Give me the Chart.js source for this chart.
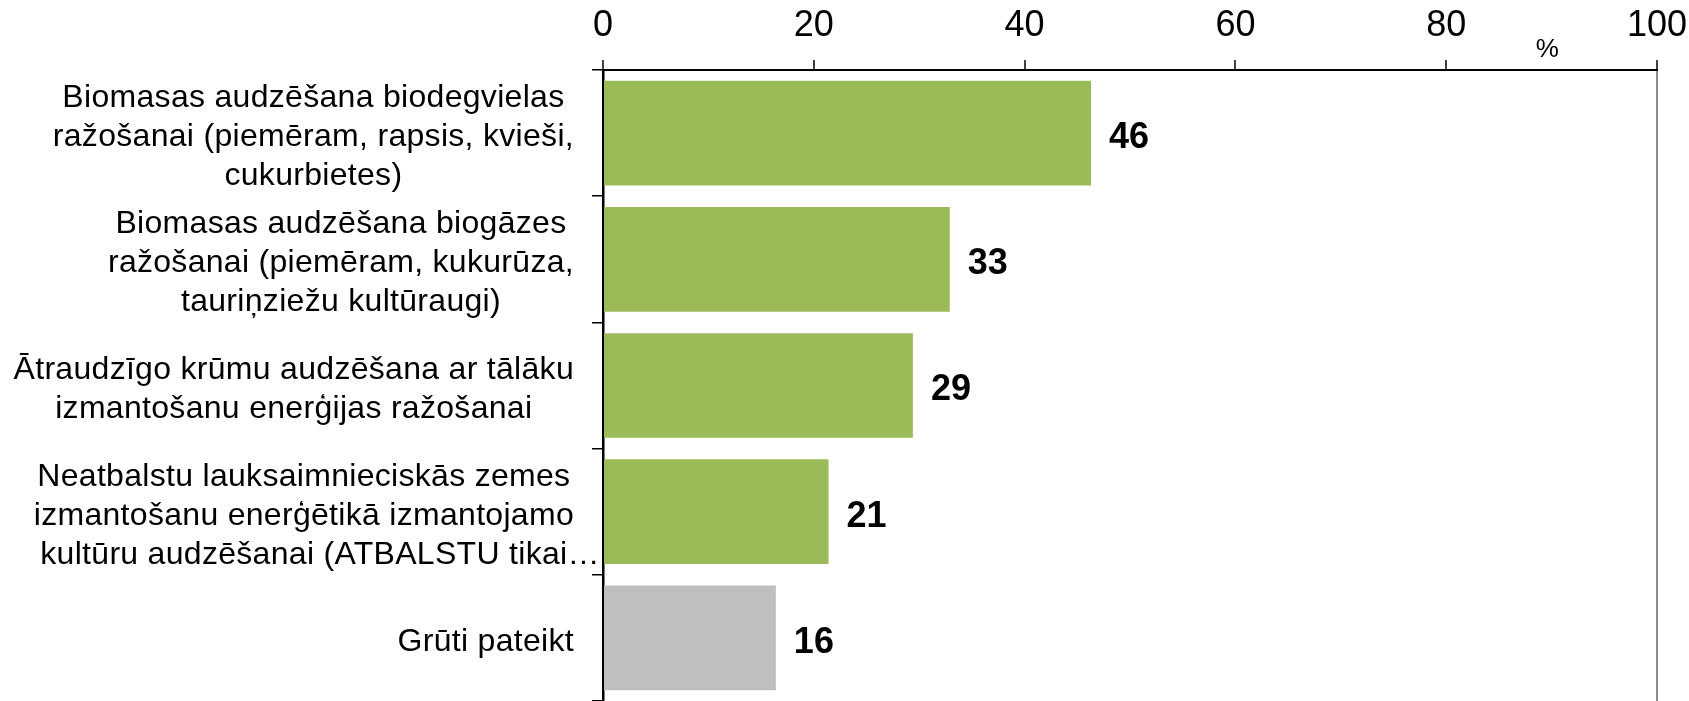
<!DOCTYPE html>
<html>
<head>
<meta charset="utf-8">
<script src="https://cdn.jsdelivr.net/npm/chart.js@4/dist/chart.umd.min.js"></script>
<style>
html,body{margin:0;padding:0;background:#fff;}
#wrap{width:1689px;height:701px;}
</style>
</head>
<body>
<div id="wrap"><canvas id="c" width="1689" height="701"></canvas></div>
<script>
const categories = [
  ["Biomasas audzēšana biodegvielas", "ražošanai (piemēram, rapsis, kvieši,", "cukurbietes)"],
  ["Biomasas audzēšana biogāzes", "ražošanai (piemēram, kukurūza,", "tauriņziežu kultūraugi)"],
  ["Ātraudzīgo krūmu audzēšana ar tālāku", "izmantošanu enerģijas ražošanai"],
  ["Neatbalstu lauksaimnieciskās zemes", "izmantošanu enerģētikā izmantojamo", "kultūru audzēšanai (ATBALSTU tikai…"],
  ["Grūti pateikt"]
];
const values = [46.3, 32.9, 29.4, 21.4, 16.4];
const valueLabels = ["46", "33", "29", "21", "16"];
const barColors = ["#9BBB59", "#9BBB59", "#9BBB59", "#9BBB59", "#BFBFBF"];
const xTicks = [0, 20, 40, 60, 80, 100];
const unitLabel = "%";

const FONT = "'Liberation Sans', Arial, sans-serif";

const labelPlugin = {
  id: 'customLabels',
  afterDraw(chart) {
    const ctx = chart.ctx;
    const ys = chart.scales.y;
    const xs = chart.scales.x;
    ctx.save();
    ctx.fillStyle = '#000';
    ctx.font = "32px " + FONT;
    try { ctx.letterSpacing = '0.3px'; } catch (e) {}
    ctx.textBaseline = 'middle';
    ctx.textAlign = 'left';
    const lineH = 39;
    const rightEdge = 574;
    categories.forEach((lines, i) => {
      const cy = ys.getPixelForValue(i) + 4;
      const widths = lines.map(l => ctx.measureText(l.replace(/…$/, '')).width);
      const maxW = Math.max(...widths);
      const cx = rightEdge - maxW / 2;
      lines.forEach((l, j) => {
        const y = cy + (j - (lines.length - 1) / 2) * lineH;
        ctx.fillText(l, cx - widths[j] / 2, y);
      });
    });
    try { ctx.letterSpacing = '0px'; } catch (e) {}
    ctx.font = "bold 36px " + FONT;
    const meta = chart.getDatasetMeta(0);
    meta.data.forEach((bar, i) => {
      ctx.fillText(valueLabels[i], bar.x + 18, bar.y + 5);
    });
    ctx.font = "26px " + FONT;
    ctx.textAlign = 'center';
    ctx.fillText(unitLabel, xs.getPixelForValue(89.6), 50);
    ctx.restore();
  }
};

new Chart(document.getElementById('c'), {
  type: 'bar',
  data: {
    labels: categories,
    datasets: [{
      data: values,
      backgroundColor: barColors,
      borderWidth: 0,
      barPercentage: 0.83,
      categoryPercentage: 1.0
    }]
  },
  options: {
    indexAxis: 'y',
    responsive: false,
    animation: false,
    layout: { padding: { top: 0, left: 0, right: 32, bottom: 0 } },
    plugins: { legend: { display: false }, tooltip: { enabled: false } },
    scales: {
      x: {
        position: 'top',
        min: 0, max: 100,
        afterBuildTicks(s) { s.ticks = xTicks.map(v => ({ value: v })); },
        ticks: { color: '#000', font: { family: FONT, size: 36 }, padding: 12 },
        grid: {
          drawOnChartArea: true,
          color: (c) => (c.tick && c.tick.value === 100) ? '#8C8C8C' : 'rgba(0,0,0,0)',
          lineWidth: 2,
          tickColor: '#000',
          tickLength: 10,
          tickWidth: 1.5
        },
        border: { display: true, color: '#000', width: 2 },
        afterFit(s) { s.height = 70; s.paddingLeft = 0; s.paddingRight = 0; }
      },
      y: {
        ticks: { display: false },
        grid: { offset: true, drawOnChartArea: false, color: '#000', tickLength: 11, lineWidth: 1.5 },
        border: { display: true, color: '#000', width: 2.5 },
        afterFit(s) { s.width = 603; s.paddingTop = 0; s.paddingBottom = 0; }
      }
    }
  },
  plugins: [labelPlugin]
});
</script>
</body>
</html>
